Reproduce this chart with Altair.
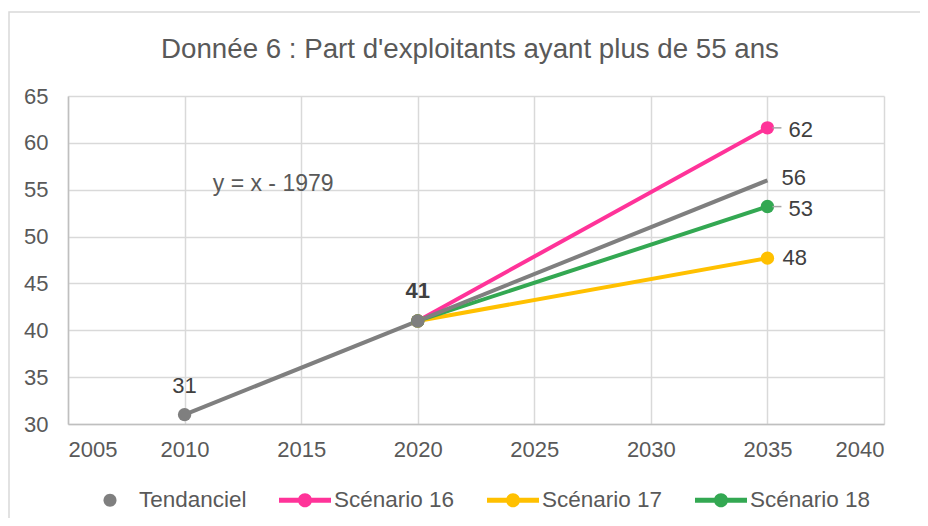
import altair as alt
import pandas as pd

FONT = "Liberation Sans, Arial, sans-serif"

title_text = "Donnée 6 : Part d'exploitants  ayant plus  de 55 ans"

series_names = ["Tendanciel", "Scénario 16", "Scénario 17", "Scénario 18"]
series_colors = ["#7F7F7F", "#FF3399", "#FFC000", "#33A852"]

tend_years = [2010, 2020]
tend_values = [31, 41]

scen_years = [2020, 2035]
scen16_values = [41, 61.6]
scen17_values = [41, 47.7]
scen18_values = [41, 53.2]

trend_years = [2010, 2035]
trend_values = [31, 56]

equation_text = ["y = x - 1979"]
equation_year = [2013.8]
equation_value = [55.6]

x_ticks = [2005, 2010, 2015, 2020, 2025, 2030, 2035, 2040]
y_ticks = [30, 35, 40, 45, 50, 55, 60, 65]

# legend symbols: line + dot for scenarios, dot only for Tendanciel
dot_only = "M0.25,0A0.25,0.25,0,1,1,-0.25,0A0.25,0.25,0,1,1,0.25,0Z"
line_dot = ("M-1,-0.095L1,-0.095L1,0.095L-1,0.095Z "
            "M0.27,0A0.27,0.27,0,1,1,-0.27,0A0.27,0.27,0,1,1,0.27,0Z")
shape_range = [dot_only, line_dot, line_dot, line_dot]

rows = []
for name, vals in [("Scénario 16", scen16_values), ("Scénario 17", scen17_values),
                   ("Scénario 18", scen18_values)]:
    for yr, v in zip(scen_years, vals):
        rows.append({"series": name, "year": yr, "value": v})
for yr, v in zip(tend_years, tend_values):
    rows.append({"series": "Tendanciel", "year": yr, "value": v})
points_df = pd.DataFrame(rows)

trend_df = pd.DataFrame({"year": trend_years, "value": trend_values})
eq_df = pd.DataFrame({"year": equation_year, "value": equation_value, "label": equation_text})

x_enc = alt.X("year:Q", scale=alt.Scale(domain=[2005, 2040], nice=False),
              axis=alt.Axis(values=x_ticks, format="d", title=None))
y_enc = alt.Y("value:Q", scale=alt.Scale(domain=[30, 65], nice=False),
              axis=alt.Axis(values=y_ticks, title=None))


def color_scale():
    return alt.Scale(domain=series_names, range=series_colors)


frame = alt.Chart(pd.DataFrame({"k": [0]})).mark_rect(
    fillOpacity=0, stroke="#D9D9D9", strokeWidth=1.5
).encode(x=alt.value(-59), x2=alt.value(1200), y=alt.value(-84), y2=alt.value(1200))

lines = alt.Chart(points_df).transform_filter(
    alt.datum.series != "Tendanciel"
).mark_line(strokeWidth=4).encode(
    x=x_enc, y=y_enc, color=alt.Color("series:N", scale=color_scale(), legend=None)
)

trend = alt.Chart(trend_df).mark_line(strokeWidth=4, color="#7F7F7F").encode(x=x_enc, y=y_enc)

dots = alt.Chart(points_df).mark_circle(size=180, opacity=1).encode(
    x=x_enc, y=y_enc, color=alt.Color("series:N", scale=color_scale(), legend=None)
)

legend_cfg = dict(
    title=None, orient="none", legendX=16, legendY=378, direction="horizontal",
    labelFontSize=22.5, labelFont=FONT, labelColor="#595959", labelOffset=3,
    columnPadding=32, symbolSize=2704, symbolStrokeWidth=0, symbolOpacity=1, padding=0,
)
legend_layer = alt.Chart(points_df).mark_point(
    filled=True, size=2704, opacity=0, strokeWidth=0
).encode(
    x=x_enc, y=y_enc,
    color=alt.Color("series:N", scale=color_scale(), legend=alt.Legend(**legend_cfg)),
    shape=alt.Shape("series:N", scale=alt.Scale(domain=series_names, range=shape_range),
                    legend=alt.Legend(**legend_cfg)),
)

lab_fmt = alt.Text("value:Q", format=".0f")
lab31 = alt.Chart(points_df).transform_filter(
    (alt.datum.series == "Tendanciel") & (alt.datum.year == 2010)
).mark_text(dy=-29, fontSize=22, font=FONT, color="#404040").encode(x=x_enc, y=y_enc, text=lab_fmt)
lab41 = alt.Chart(points_df).transform_filter(
    (alt.datum.series == "Tendanciel") & (alt.datum.year == 2020)
).mark_text(dy=-30, fontSize=22, font=FONT, color="#404040", fontWeight="bold").encode(
    x=x_enc, y=y_enc, text=lab_fmt)
lab_lead = alt.Chart(points_df).transform_filter(
    ((alt.datum.series == "Scénario 16") | (alt.datum.series == "Scénario 18")) & (alt.datum.year == 2035)
).mark_text(dx=21, dy=2, align="left", fontSize=22, font=FONT, color="#404040").encode(
    x=x_enc, y=y_enc, text=lab_fmt)
lead_rules = alt.Chart(points_df).transform_filter(
    ((alt.datum.series == "Scénario 16") | (alt.datum.series == "Scénario 18")) & (alt.datum.year == 2035)
).mark_rule(color="#A6A6A6", strokeWidth=1.5, xOffset=5, x2Offset=14).encode(
    x=x_enc, x2="year:Q", y=y_enc)
lab17 = alt.Chart(points_df).transform_filter(
    (alt.datum.series == "Scénario 17") & (alt.datum.year == 2035)
).mark_text(dx=15, dy=0, align="left", fontSize=22, font=FONT, color="#404040").encode(
    x=x_enc, y=y_enc, text=lab_fmt)
lab_trend = alt.Chart(trend_df).transform_filter(alt.datum.year == 2035).mark_text(
    dx=14, dy=-2, align="left", fontSize=22, font=FONT, color="#404040").encode(
    x=x_enc, y=y_enc, text=lab_fmt)

eq = alt.Chart(eq_df).mark_text(fontSize=23, font=FONT, color="#595959").encode(
    x=x_enc, y=y_enc, text="label:N")

chart = alt.layer(
    frame, lines, trend, dots, legend_layer, lead_rules,
    lab31, lab41, lab_lead, lab17, lab_trend, eq
).resolve_scale(color="independent", shape="independent").resolve_legend(
    color="independent", shape="independent"
).properties(
    width=816, height=328,
    autosize=alt.AutoSizeParams(type="none"),
    padding={"left": 60, "top": 88, "right": 36, "bottom": 94},
    title=alt.TitleParams(title_text, fontSize=27.7, font=FONT, color="#595959",
                          fontWeight="normal", anchor="middle", frame="group",
                          baseline="alphabetic", offset=-74.75, dx=-6),
).configure_view(stroke=None).configure_axis(
    labelFont=FONT, labelFontSize=22, labelColor="#595959",
    gridColor="#D9D9D9", gridWidth=1.5, domainColor="#BFBFBF", domainWidth=1.5,
    ticks=False, tickSize=0,
).configure_axisX(labelPadding=15).configure_axisY(labelPadding=20)

chart.save("out.html", embed_options={"renderer": "svg", "actions": False})
